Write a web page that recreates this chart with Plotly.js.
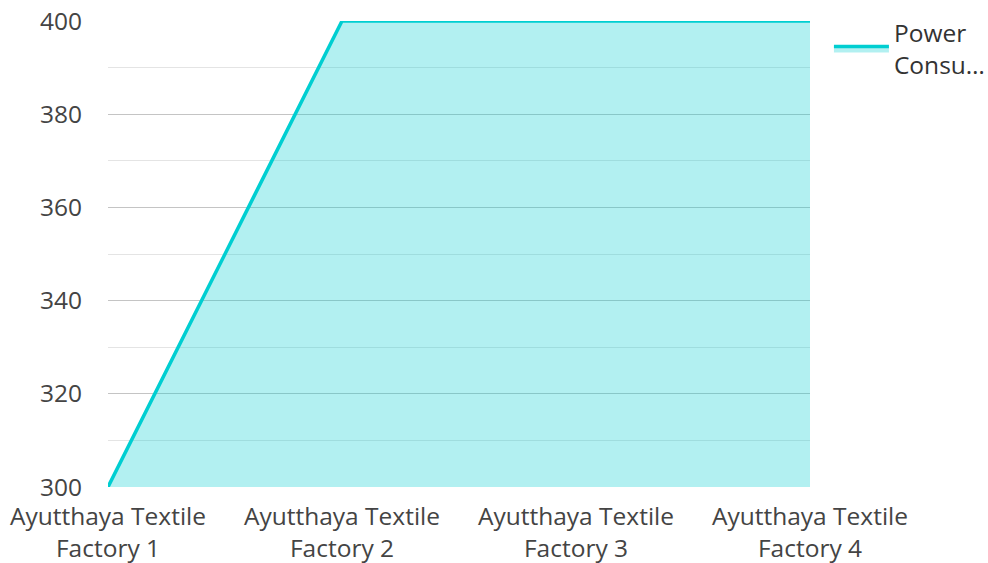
<!DOCTYPE html>
<html><head><meta charset="utf-8">
<script src="https://cdn.plot.ly/plotly-3.0.1.min.js"></script>
<style>html,body{margin:0;padding:0;background:#fff}#chart{width:988px;height:563px}</style>
</head><body><div id="chart"></div>
<script>
const categories = ["Ayutthaya Textile<br>Factory 1","Ayutthaya Textile<br>Factory 2","Ayutthaya Textile<br>Factory 3","Ayutthaya Textile<br>Factory 4"];
const powerValues = [300, 400, 400, 400];
const seriesName = "Power<br>Consu…";
const yTicks = [300, 320, 340, 360, 380, 400];

const trace = {
  x: categories, y: powerValues, type: 'scatter', mode: 'lines',
  name: seriesName, fill: 'tozeroy',
  line: {color: '#00CED1', width: 3.5},
  fillcolor: 'rgba(0,206,209,0.3)'
};
const layout = {
  width: 988, height: 563,
  margin: {l: 108, r: 178, t: 21, b: 76, autoexpand: false},
  paper_bgcolor: '#fff', plot_bgcolor: '#fff',
  font: {family: 'Open Sans, Noto Sans, sans-serif', size: 24.5, color: '#444'},
  showlegend: true,
  legend: {xref: 'container', yref: 'container', x: 0.839, xanchor: 'left', y: 0.982, yanchor: 'top',
           itemwidth: 55, font: {size: 24.5, color: '#333'}},
  xaxis: {type: 'category', range: [0, 3], showgrid: false, zeroline: false, showline: false,
          ticks: 'outside', ticklen: 8, tickcolor: 'rgba(0,0,0,0)', fixedrange: true},
  yaxis: {range: [300, 400], tickvals: yTicks, showgrid: true, gridcolor: '#c4c4c4', gridwidth: 1,
          zeroline: false, showline: false, ticks: 'outside', ticklen: 20, tickcolor: 'rgba(0,0,0,0)',
          minor: {dtick: 10, showgrid: true, gridcolor: '#e4e4e4', ticks: ''}}
};
Plotly.newPlot('chart', [trace], layout, {displayModeBar: false, staticPlot: true});
</script></body></html>
